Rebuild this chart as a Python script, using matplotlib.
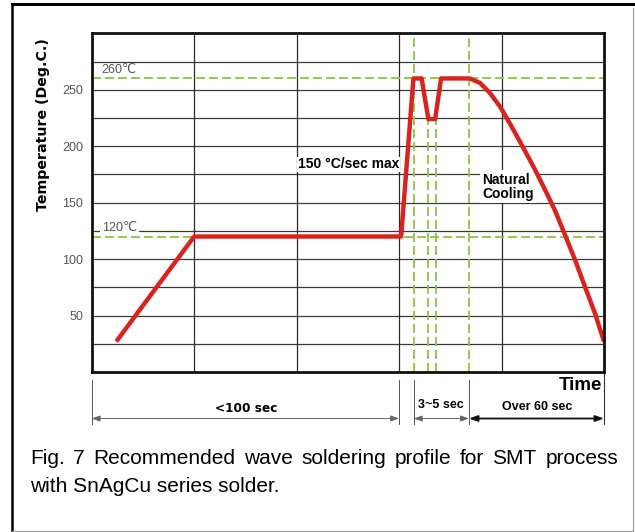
import matplotlib
matplotlib.use('Agg')
import matplotlib.pyplot as plt
from matplotlib.lines import Line2D

# ---- data ----
profile_time = [12, 50, 151, 157, 161, 164.3, 167.6, 170.5, 184.5, 189.5, 194.4, 199.3,
                204.1, 209, 213.9, 216.4, 221.2, 226.1, 231, 235.9, 240.7, 245.6, 250]
profile_temp = [27, 120, 120, 260, 260, 224, 224, 260, 260, 256, 247, 235,
                220, 204, 187.5, 179, 161.5, 143, 121.3, 99.2, 75.6, 52, 27]
ref_temps = [260, 120]
ref_labels = ['260\u2103', '120\u2103']
phase_times = [157.2, 164.3, 167.9, 184.1]
phase_tops = [300, 224, 224, 300]
y_tick_vals = [50, 100, 150, 200, 250]
grid_temps = [25, 50, 75, 100, 125, 150, 175, 200, 225, 250, 275]
grid_times = [50, 100, 150, 200]
span_starts = [0, 157.2, 184.1]
span_ends = [150, 184.1, 250]
span_labels = ['<100 sec', '3~5 sec', 'Over 60 sec']
caption_lines = ['Fig. 7 Recommended wave soldering profile for SMT process',
                 'with SnAgCu series solder.']

GREEN = '#8cc63e'
RED = '#d8231f'
FONT = ['Liberation Sans', 'DejaVu Sans']
WIDE = ['DejaVu Sans']

fig = plt.figure(figsize=(6.35, 5.32), dpi=100)
W, H = 635, 532

def fx(px):
    return px / W

def fy(py):
    return 1 - py / H

ax = fig.add_axes([fx(91.7), fy(372), fx(604) - fx(91.7), fy(33.3) - fy(372)])
ax.set_xlim(0, 250)
ax.set_ylim(0, 300)

for t in grid_temps:
    ax.axhline(t, color='#3a3a3a', lw=0.9, zorder=1)
for t in grid_times:
    ax.axvline(t, color='#2a2a2a', lw=0.9, zorder=1)

for t in ref_temps:
    ax.axhline(t, color=GREEN, lw=1.3, dashes=(5, 2.2), zorder=2)
for t, top in zip(phase_times, phase_tops):
    ax.plot([t, t], [0, top], color=GREEN, lw=1.3, dashes=(5, 2.2), zorder=2)

ax.plot(profile_time, profile_temp, color=RED, lw=3.2, zorder=4,
        solid_joinstyle='round', solid_capstyle='butt')

ax.text(4.5, 267.5, ref_labels[0], family=FONT, fontsize=9, color='#555555',
        ha='left', va='center', zorder=3)
ax.text(5.0, 128, ref_labels[1], family=FONT, fontsize=9, color='#555555',
        ha='left', va='center', zorder=3,
        bbox=dict(facecolor='white', edgecolor='none', pad=1.5))

ax.text(100.5, 184, '150 \u00b0C/sec max', family=FONT, fontsize=10,
        fontweight='bold', ha='left', va='center', zorder=5,
        bbox=dict(facecolor='white', edgecolor='none', pad=0.5))
ax.text(190.5, 164, 'Natural\nCooling', family=FONT, fontsize=10,
        fontweight='bold', ha='left', va='center', zorder=3, linespacing=1.05,
        bbox=dict(facecolor='white', edgecolor='none', pad=1.5))

ax.set_xticks([])
ax.set_yticks(y_tick_vals)
ax.set_yticklabels([str(v) for v in y_tick_vals], family=FONT, fontsize=9, color='#555555')
ax.tick_params(axis='y', length=0, pad=6)
for s in ax.spines.values():
    s.set_linewidth(2.0)
    s.set_color('#111111')
    s.set_zorder(6)

# ---- annotations below the plot ----
def dy(py):
    return (372 - py) / 1.129

for x0 in [0, 150, 157.2, 184.1]:
    ax.plot([x0, x0], [dy(380), dy(424)], color='#555555', lw=0.7, clip_on=False)
ax.plot([250, 250], [dy(374), dy(424)], color='#333333', lw=0.8, clip_on=False)

arrow_y = dy(418.5)
for x0, x1, lab in zip(span_starts, span_ends, span_labels):
    strong = lab.startswith('Over')
    ax.annotate('', xy=(x1, arrow_y), xytext=(x0, arrow_y), xycoords='data',
                annotation_clip=False,
                arrowprops=dict(arrowstyle='<|-|>,head_length=0.5,head_width=0.18',
                                color='#111111' if strong else '#666666',
                                lw=1.3 if strong else 0.7,
                                shrinkA=0, shrinkB=0))
ax.text(75.5, dy(409), span_labels[0], family=WIDE, fontsize=8.7, fontweight='bold',
        ha='center', va='center', clip_on=False)
ax.text(170.6, dy(405.5), span_labels[1], family=FONT, fontsize=9, fontweight='bold',
        ha='center', va='center', clip_on=False)
ax.text(217.3, dy(406.5), span_labels[2], family=FONT, fontsize=9, fontweight='bold',
        ha='center', va='center', clip_on=False)
ax.text(249, dy(386), 'Time', family=FONT, fontsize=13.5, fontweight='bold',
        ha='right', va='center', clip_on=False)

fig.text(fx(43), fy(125), 'Temperature (Deg.C.)', family=WIDE, fontsize=10.2,
         fontweight='bold', rotation=90, ha='center', va='center')

# caption: first line justified between x=30 and x=618 px
renderer = fig.canvas.get_renderer()
cap_size = 15
words = caption_lines[0].split(' ')
word_texts = [fig.text(0, fy(459), w, family=FONT, fontsize=cap_size,
                       ha='left', va='center') for w in words]
widths = [t.get_window_extent(renderer).width for t in word_texts]
gap = (618 - 30 - sum(widths)) / (len(words) - 1)
xpos = 30.0
for t, w in zip(word_texts, widths):
    t.set_x(fx(xpos))
    xpos += w + gap
fig.text(fx(30), fy(487), caption_lines[1], family=FONT, fontsize=cap_size,
         ha='left', va='center')

# outer frame
fig.add_artist(Line2D([fx(12), fx(635)], [fy(4), fy(4)], color='black', lw=2.2))
fig.add_artist(Line2D([fx(12), fx(12)], [fy(4), fy(532)], color='black', lw=1.8))
fig.add_artist(Line2D([fx(633), fx(633)], [fy(8), fy(530.5)], color='#9a9a9a', lw=0.8))
fig.add_artist(Line2D([fx(12), fx(633)], [fy(530.5), fy(530.5)], color='#9a9a9a', lw=0.8))

fig.savefig('out.png', dpi=100)
